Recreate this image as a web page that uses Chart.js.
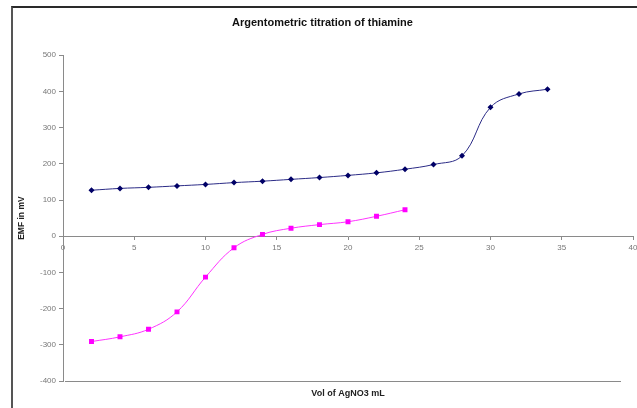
<!DOCTYPE html>
<html>
<head>
<meta charset="utf-8">
<script src="https://cdn.jsdelivr.net/npm/chart.js@4/dist/chart.umd.min.js"></script>
<style>
  html, body { margin: 0; padding: 0; background: #fff; }
  #wrap { position: relative; width: 637px; height: 408px; overflow: hidden; }
  #frame { position: absolute; left: 11px; top: 6px; width: 700px; height: 500px;
           border-top: 2px solid #2a2a2a; border-left: 2px solid #555; pointer-events: none; }
  canvas { position: absolute; left: 0; top: 0; }
</style>
</head>
<body>
<div id="wrap">
  <canvas id="c" width="637" height="408"></canvas>
  <div id="frame"></div>
</div>
<script>
// Volume of titrant added (mL)
const volumesA = [2, 4, 6, 8, 10, 12, 14, 16, 18, 20, 22, 24, 26, 28, 30, 32, 34];
const volumesB = [2, 4, 6, 8, 10, 12, 14, 16, 18, 20, 22, 24];
// Measured EMF (mV)
const emfA = [127, 132, 135, 139, 143, 148, 152, 157, 162, 168, 175, 185, 198, 222, 356, 393, 406];
const emfB = [-291, -278, -257, -209, -113, -32, 5, 22, 32, 40, 55, 73];
// Axis ranges and steps
const xTicks = { min: 0, max: 40, step: 5 };
const yTicks = { min: -400, max: 500, step: 100 };

const toPoints = (xs, ys) => xs.map((x, i) => ({ x: x, y: ys[i] }));

const tickFont = { family: 'Liberation Sans, Arial, sans-serif', size: 8 };
const titleFont = { family: 'Liberation Sans, Arial, sans-serif', size: 8.5, weight: 'bold' };

// Bottom edge of the plot area (stops short of the right edge)
const plotFloor = {
  id: 'plotFloor',
  afterDatasetsDraw(chart) {
    const { ctx, chartArea, scales } = chart;
    const yb = Math.round(scales.y.getPixelForValue(yTicks.min)) + 0.5;
    ctx.save();
    ctx.strokeStyle = '#8a8a8a';
    ctx.lineWidth = 1;
    ctx.beginPath();
    ctx.moveTo(chartArea.left + 2, yb);
    ctx.lineTo(chartArea.right - 12, yb);
    ctx.stroke();
    ctx.restore();
  }
};

new Chart(document.getElementById('c'), {
  type: 'line',
  plugins: [plotFloor],
  data: {
    datasets: [
      {
        data: toPoints(volumesA, emfA),
        borderColor: '#2b2b86',
        backgroundColor: '#000066',
        borderWidth: 1,
        pointStyle: 'rectRot',
        pointRadius: 3,
        pointBorderWidth: 0,
        tension: 0.4
      },
      {
        data: toPoints(volumesB, emfB),
        borderColor: '#ff33ff',
        backgroundColor: '#ff00ff',
        borderWidth: 1,
        pointStyle: 'rect',
        pointRadius: 3.5,
        pointBorderWidth: 0,
        tension: 0.4
      }
    ]
  },
  options: {
    responsive: false,
    devicePixelRatio: 1,
    animation: false,
    layout: { padding: { left: 12, right: 4, top: 16, bottom: 0 } },
    plugins: {
      legend: { display: false },
      tooltip: { enabled: false },
      title: {
        display: true,
        text: 'Argentometric titration of thiamine',
        color: '#111',
        font: { family: 'Liberation Sans, Arial, sans-serif', size: 11, weight: 'bold' },
        padding: { top: 0, bottom: 26 }
      }
    },
    scales: {
      x: {
        type: 'linear',
        position: { y: 0 },
        min: xTicks.min,
        max: xTicks.max,
        ticks: { stepSize: xTicks.step, color: '#777', font: tickFont, padding: 4, maxRotation: 0 },
        grid: { drawOnChartArea: false, drawTicks: true, tickLength: 3, color: '#8a8a8a' },
        border: { color: '#8a8a8a', width: 1 },
        afterFit: (s) => { s.paddingLeft = 0; s.paddingRight = 0; }
      },
      x2: {
        type: 'linear',
        position: 'bottom',
        min: xTicks.min,
        max: xTicks.max,
        ticks: { display: false },
        grid: { display: false },
        border: { display: false },
        title: { display: true, text: 'Vol of AgNO3 mL', color: '#222', font: { family: 'Liberation Sans, Arial, sans-serif', size: 9, weight: 'bold' }, padding: { top: 0, bottom: 9 } },
        afterFit: (s) => { s.height = 27; s.paddingLeft = 0; s.paddingRight = 0; }
      },
      y: {
        type: 'linear',
        min: yTicks.min,
        max: yTicks.max,
        ticks: { stepSize: yTicks.step, color: '#777', font: tickFont, padding: 3 },
        grid: { drawOnChartArea: false, drawTicks: true, tickLength: 4, color: '#8a8a8a' },
        border: { color: '#8a8a8a', width: 1 },
        title: { display: true, text: 'EMF in mV', color: '#222', font: titleFont, padding: { top: 5, bottom: 0 } },
        afterFit: (s) => { s.width = 51; }
      }
    }
  }
});
</script>
</body>
</html>
